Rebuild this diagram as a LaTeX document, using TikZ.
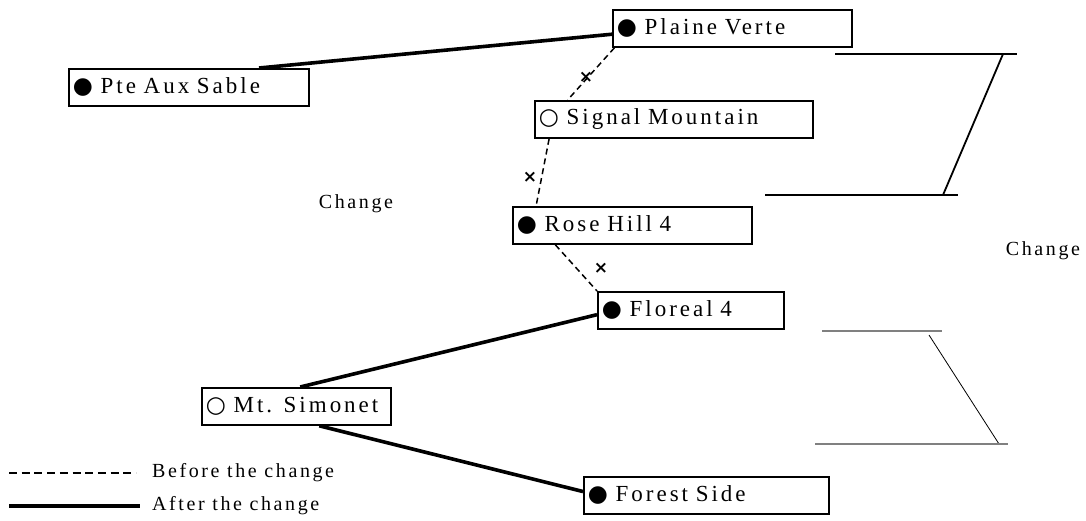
\documentclass[tikz,border=0pt]{standalone}
\usepackage{fontspec}
\setmainfont{Liberation Serif}[LetterSpace=13]
\newfontfamily\symfont{DejaVu Sans}
\usetikzlibrary{calc}
\newcommand\fullmark{{\symfont ●}}
\newcommand\hollowmark{{\symfont ○}}

\begin{document}
\begin{tikzpicture}[x=1pt,y=-1pt,
  stn/.style={draw, line width=1.8pt, rectangle, anchor=north west,
    minimum height=37pt, inner xsep=4pt, inner ysep=0pt, align=left,
    font=\fontsize{23}{26}\selectfont},
  oldlink/.style={line width=1.5pt, dash pattern=on 6pt off 4pt},
  newlink/.style={line width=3.6pt},
  cut/.style={font=\symfont\bfseries\fontsize{17}{17}\selectfont, inner sep=0pt},
  lbl/.style={font=\fontsize{20}{24}\selectfont, inner sep=0pt},
  bracket/.style={line width=1.8pt},
  thinbar/.style={line width=1.4pt, draw=black!50},
  thinslant/.style={line width=0.8pt}]
\useasboundingbox (0,0) rectangle (1086,520);

% stations
\node[stn, text width=231pt] (plaine)  at (612,9)   {\fullmark\ Plaine Verte};
\node[stn, text width=232pt] (pte)     at (68,68)   {\fullmark\ Pte Aux Sable};
\node[stn, text width=270pt] (signal)  at (534,100) {\hollowmark\ Signal Mountain};
\node[stn, text width=231pt] (rose)    at (512,206) {\fullmark\ Rose Hill 4};
\node[stn, text width=178pt] (floreal) at (597,291) {\fullmark\ Floreal 4};
\node[stn, text width=181pt] (simonet) at (201,387) {\hollowmark\ Mt. Simonet};
\node[stn, text width=237pt] (forest)  at (583,476) {\fullmark\ Forest Side};

% links after the change
\draw[newlink] ($(pte.north west)!0.79!(pte.north east)$) -- ($(plaine.north west)!0.65!(plaine.south west)$);
\draw[newlink] ($(floreal.north west)!0.61!(floreal.south west)$) -- ($(simonet.north west)!0.52!(simonet.north east)$);
\draw[newlink] ($(simonet.south west)!0.62!(simonet.south east)$) -- ($(forest.north west)!0.4!(forest.south west)$);

% links before the change
\draw[oldlink] ($(plaine.south west)!0.01!(plaine.south east)$) -- ($(signal.north west)!0.12!(signal.north east)$);
\draw[oldlink] ($(signal.south west)!0.054!(signal.south east)$) -- ($(rose.north west)!0.10!(rose.north east)$);
\draw[oldlink] ($(rose.south west)!0.18!(rose.south east)$) -- (floreal.north west);

% removed sections
\node[cut] (cuta) at (586,77)  {×};
\node[cut] (cutb) at (530,177) {×};
\node[cut] (cutc) at (601,268) {×};

% change labels
\node[lbl] (chleft)  at (356,204) {Change};
\node[lbl] (chright) at (1043,251) {Change};

% upper bracket
\coordinate (ua) at (835,54);
\coordinate (ub) at (1017,54);
\coordinate (uc) at (1003,54);
\coordinate (ud) at (943,195);
\coordinate (ue) at (765,195);
\coordinate (uf) at (958,195);
\draw[bracket] (ua) -- (ub);
\draw[bracket] (uc) -- (ud);
\draw[bracket] (ue) -- (uf);

% lower bracket
\coordinate (la) at (822,331);
\coordinate (lb) at (942,331);
\coordinate (lc) at (929,335);
\coordinate (ld) at (999,444);
\coordinate (le) at (815,444);
\coordinate (lf) at (1008,444);
\draw[thinbar] (la) -- (lb);
\draw[thinslant] (lc) -- (ld);
\draw[thinbar] (le) -- (lf);

% legend
\coordinate (k1a) at (9,473);
\coordinate (k1b) at (136,473);
\coordinate (k2a) at (9,506);
\coordinate (k2b) at (140,506);
\draw[line width=1.2pt, dash pattern=on 8pt off 4.7pt] (k1a) -- (k1b);
\draw[line width=3.6pt] (k2a) -- (k2b);
\node[lbl, anchor=west] (kbefore) at (152,473) {Before the change};
\node[lbl, anchor=west] (kafter)  at (152,506) {After the change};
\end{tikzpicture}
\end{document}
